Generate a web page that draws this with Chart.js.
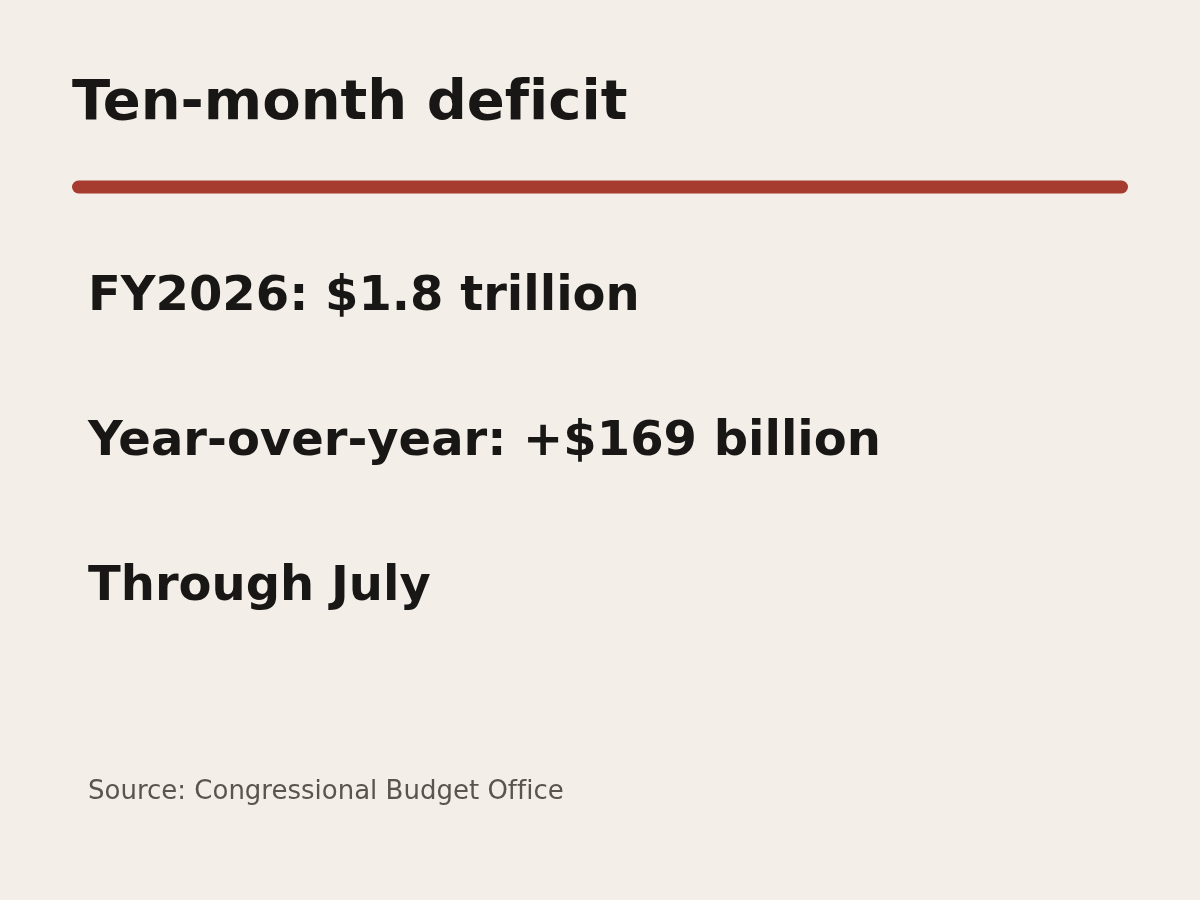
<!DOCTYPE html>
<html>
<head>
<meta charset="utf-8">
<script src="https://cdn.jsdelivr.net/npm/chart.js@4/dist/chart.umd.min.js"></script>
<style>
  html, body { margin: 0; padding: 0; }
  body { width: 1200px; height: 900px; background: #f3eee7; position: relative; overflow: hidden;
         font-family: "DejaVu Sans", sans-serif; font-variant-ligatures: none; }
  #c { position: absolute; left: 0; top: 0; }
  .t { position: absolute; line-height: 1; white-space: nowrap; margin: 0; font-variant-ligatures: none; }
  #title { left: 72px; top: 72px; font-size: 56px; font-weight: bold; color: #181715; }
  .stat { left: 88px; font-size: 48px; font-weight: bold; color: #181715; }
  #source { left: 88px; top: 777px; font-size: 26px; color: #5a554c; }
</style>
</head>
<body>
<canvas id="c" width="1200" height="900"></canvas>
<div id="title" class="t"></div>
<div id="stats"></div>
<div id="source" class="t"></div>
<script>
const titleText = "Ten-month deficit";
const statLines = ["FY2026: $1.8 trillion", "Year-over-year: +$169 billion", "Through July"];
const statBaselines = [309.5, 454.5, 599.5];
const sourceText = "Source: Congressional Budget Office";

document.getElementById('title').textContent = titleText;
document.getElementById('source').textContent = sourceText;
const statsEl = document.getElementById('stats');
statLines.forEach((s, i) => {
  const d = document.createElement('div');
  d.className = 't stat';
  d.textContent = s;
  d.style.top = (statBaselines[i] - 48 * 0.846) + 'px';
  statsEl.appendChild(d);
});

// Chart.js canvas: draws the red accent rule as a single horizontal line on hidden axes
const ruleX = [0, 1];
const ruleY = [0, 0];
new Chart(document.getElementById('c'), {
  type: 'line',
  data: {
    labels: ruleX,
    datasets: [{
      data: ruleY,
      borderColor: '#a63c30',
      borderWidth: 13,
      borderCapStyle: 'round',
      pointRadius: 0,
      fill: false,
      clip: false
    }]
  },
  options: {
    responsive: false,
    animation: false,
    events: [],
    layout: { padding: { left: 78.5, right: 78.5, top: 167, bottom: 693 } },
    plugins: { legend: { display: false }, tooltip: { enabled: false }, title: { display: false } },
    scales: {
      x: { type: 'linear', display: false, min: 0, max: 1 },
      y: { type: 'linear', display: false, min: -1, max: 1 }
    }
  }
});
</script>
</body>
</html>
